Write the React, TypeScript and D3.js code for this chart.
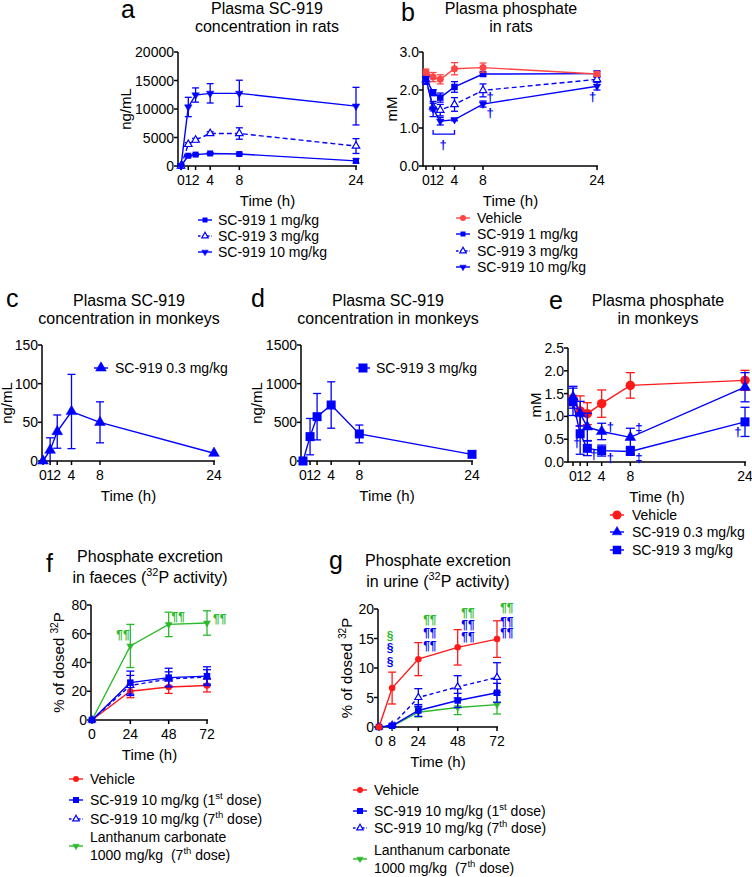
import React from "react";
import * as d3 from "d3";

const FONT = "'Liberation Sans', Arial, Helvetica, sans-serif";
const BLUE = "#0000ff";
const RED = "#ff1a1a";
const RED_B = "#ff4545";
const GREEN = "#2cba2c";

// ---------- shared ----------
const pkTimes = [0, 1, 2, 4, 8, 24];
const pkXTicks = [0, 1, 2, 4, 8, 24];
const excTicksX = [0, 24, 48, 72];
const fTimes = [0, 24, 48, 72];
const gTimes = [0, 8, 24, 48, 72];
const gTicksX = [0, 8, 24, 48, 72];

// ---------- a: plasma SC-919 in rats ----------
const aYTicks = [0, 5000, 10000, 15000, 20000];
const a1Mean = [0, 1800, 2000, 2200, 2100, 900];
const a1Err = [0, 150, 150, 150, 150, 400];
const a3Mean = [0, 3800, 4550, 5700, 5700, 3500];
const a3Err = [0, 300, 300, 300, 1000, 1300];
const a10Mean = [0, 10350, 12450, 12750, 12750, 10500];
const a10Err = [0, 1700, 1250, 1700, 2300, 3300];
const aLegend = ["SC-919 1 mg/kg", "SC-919 3 mg/kg", "SC-919 10 mg/kg"];

// ---------- b: plasma phosphate in rats ----------
const bYTicks = [0, 1, 2, 3];
const bVehMean = [2.47, 2.34, 2.28, 2.56, 2.59, 2.42];
const bVehErr = [0.08, 0.12, 0.12, 0.16, 0.12, 0.06];
const b1Mean = [2.3, 1.93, 1.8, 2.08, 2.42, 2.43];
const b1Err = [0.15, 0.08, 0.12, 0.14, 0.05, 0.07];
const b3Mean = [2.27, 1.55, 1.47, 1.62, 1.99, 2.28];
const b3Err = [0.1, 0.1, 0.15, 0.18, 0.17, 0.05];
const b10Mean = [2.3, 1.5, 1.18, 1.22, 1.63, 2.1];
const b10Err = [0.08, 0.2, 0.1, 0.03, 0.08, 0.1];
const bLegend = ["Vehicle", "SC-919 1 mg/kg", "SC-919 3 mg/kg", "SC-919 10 mg/kg"];

// ---------- c: plasma SC-919 in monkeys 0.3 ----------
const cYTicks = [0, 50, 100, 150];
const cMean = [0, 14, 38, 64, 50, 10];
const cErr = [0, 16, 21.5, 48, 26.5, 0];
const cLegend = "SC-919 0.3 mg/kg";

// ---------- d: plasma SC-919 in monkeys 3 ----------
const dYTicks = [0, 500, 1000, 1500];
const dMean = [0, 315, 573, 724, 350, 86];
const dErr = [0, 235, 300, 300, 115, 0];
const dLegend = "SC-919 3 mg/kg";

// ---------- e: plasma phosphate in monkeys ----------
const eYTicks = [0, 0.5, 1, 1.5, 2, 2.5];
const eVehMean = [1.36, 1.12, 1.06, 1.28, 1.68, 1.79];
const eVehErr = [0.1, 0.33, 0.24, 0.3, 0.28, 0.22];
const e03Mean = [1.42, 1.06, 0.77, 0.67, 0.54, 1.64];
const e03Err = [0.24, 0.27, 0.3, 0.18, 0.2, 0.32];
const e3Mean = [1.32, 0.62, 0.3, 0.25, 0.23, 0.88];
const e3Err = [0.3, 0.45, 0.16, 0.12, 0.07, 0.32];
const eLegend = ["Vehicle", "SC-919 0.3 mg/kg", "SC-919 3 mg/kg"];

// ---------- f: faeces ----------
const fYTicks = [0, 20, 40, 60, 80];
const fVehMean = [0, 20, 23, 24];
const fVehErr = [0, 4.5, 4.5, 4.5];
const f1Mean = [0, 26, 29.5, 30.5];
const f1Err = [0, 8, 6.5, 6.5];
const f7Mean = [0, 24, 28.5, 30];
const f7Err = [0, 7, 5, 5];
const fLaMean = [0, 51.5, 66.5, 67.5];
const fLaErr = [0, 15, 8.5, 8.5];

// ---------- g: urine ----------
const gYTicks = [0, 5, 10, 15, 20];
const gVehMean = [0, 6.6, 11.5, 13.5, 14.9];
const gVehErr = [0, 2.7, 2.8, 3.0, 3.1];
const g1Mean = [0, 0.2, 2.8, 4.5, 5.8];
const g1Err = [0, 0.1, 1.0, 1.2, 1.6];
const g7Mean = [0, 0.3, 5.0, 6.8, 8.4];
const g7Err = [0, 0.2, 1.5, 1.9, 2.5];
const gLaMean = [0, 0.1, 2.5, 3.3, 3.8];
const gLaErr = [0, 0.1, 0.8, 1.2, 1.6];

// legend labels for f/g (odd index = superscript)
const exLegend: string[][][] = [
  [["Vehicle"]],
  [["SC-919 10 mg/kg (1", "st", " dose)"]],
  [["SC-919 10 mg/kg (7", "th", " dose)"]],
  [["Lanthanum carbonate"], ["1000 mg/kg  (7", "th", " dose)"]],
];

type MT = "square" | "circle" | "triUp" | "triOpen" | "triDown";
type Series = { t: number[]; m: number[]; e: number[]; color: string; marker: MT; size: number; dash?: string; cap: number };
type Ann = { t: number; v: number; s: string; color: string; fs?: number };

function Marker({ type, x, y, s, color }: { type: MT; x: number; y: number; s: number; color: string }) {
  const h = s / 2;
  if (type === "square") return <rect x={x - h} y={y - h} width={s} height={s} fill={color} />;
  if (type === "circle") return <circle cx={x} cy={y} r={h} fill={color} />;
  const r = s * 0.62;
  if (type === "triDown") {
    const pts = `${x},${y + r} ${x - r * 0.866},${y - r * 0.5} ${x + r * 0.866},${y - r * 0.5}`;
    return <polygon points={pts} fill={color} stroke={color} strokeWidth={0.5} />;
  }
  const pts = `${x},${y - r} ${x - r * 0.866},${y + r * 0.5} ${x + r * 0.866},${y + r * 0.5}`;
  return (
    <polygon
      points={pts}
      fill={type === "triOpen" ? "#fff" : color}
      stroke={color}
      strokeWidth={type === "triOpen" ? 1.2 : 0.5}
    />
  );
}

function Parts({ x, y, parts, fs, anchor = "start", bold = false, fill = "#000" }: any) {
  return (
    <text x={x} y={y} fontSize={fs} textAnchor={anchor} fill={fill} fontWeight={bold ? "bold" : "normal"} style={{ whiteSpace: "pre" }}>
      {parts.map((p: string, i: number) =>
        i % 2 === 1 ? (
          <tspan key={i} fontSize={fs * 0.68} dy={-fs * 0.42}>{p}</tspan>
        ) : (
          <tspan key={i} dy={i > 0 ? fs * 0.42 : 0}>{p}</tspan>
        )
      )}
    </text>
  );
}

function Panel(props: {
  xr: [number, number]; yr: [number, number]; xd: [number, number]; yd: [number, number];
  axisX: number; xTicks: number[]; yTicks: number[]; fmtY?: (v: number) => string;
  series: Series[]; anns?: Ann[]; extra?: (x: any, y: any) => React.ReactNode;
  yLabel: string[]; yLabelX: number;
}) {
  const { xr, yr, xd, yd, axisX, xTicks, yTicks, fmtY, series, anns, extra, yLabel, yLabelX } = props;
  const x = d3.scaleLinear().domain(xd).range(xr);
  const y = d3.scaleLinear().domain(yd).range(yr);
  const y0 = y(yd[0]);
  const yTop = y(yd[1]);
  const xEnd = x(xd[1]) + 1;
  const line = d3.line<[number, number]>().x((d) => x(d[0])).y((d) => y(d[1]));
  const f = fmtY || ((v: number) => String(v));
  const midY = (y0 + yTop) / 2;
  return (
    <g>
      {/* axes */}
      <line x1={axisX} x2={axisX} y1={y0 + 0.75} y2={yTop} stroke="#000" strokeWidth={1.5} />
      <line x1={axisX} x2={xEnd} y1={y0} y2={y0} stroke="#000" strokeWidth={1.5} />
      {yTicks.map((v) => (
        <g key={"y" + v}>
          <line x1={axisX - 4} x2={axisX} y1={y(v)} y2={y(v)} stroke="#000" strokeWidth={1.5} />
          <text x={axisX - 4} y={y(v)} dy="0.36em" fontSize={14} textAnchor="end">{f(v)}</text>
        </g>
      ))}
      {xTicks.map((v) => (
        <g key={"x" + v}>
          <line x1={x(v)} x2={x(v)} y1={y0} y2={y0 + 4} stroke="#000" strokeWidth={1.5} />
          <text x={x(v)} y={y0 + 19} fontSize={14} textAnchor="middle">{v}</text>
        </g>
      ))}
      <text x={(axisX + xEnd) / 2} y={y0 + 40} fontSize={15} textAnchor="middle">Time (h)</text>
      <g transform={`translate(${yLabelX},${midY}) rotate(-90)`}>
        <Parts x={0} y={5} parts={yLabel} fs={15} anchor="middle" />
      </g>
      {/* series */}
      {series.map((s, i) => (
        <g key={i}>
          <path
            d={line(s.t.map((t, j) => [t, s.m[j]] as [number, number])) || ""}
            fill="none"
            stroke={s.color}
            strokeWidth={1.4}
            strokeDasharray={s.dash}
          />
          {s.t.map((t, j) => {
            if (!(s.e[j] > 0)) return null;
            const lo = y(Math.max(yd[0], s.m[j] - s.e[j]));
            const hi = y(s.m[j] + s.e[j]);
            const cx = x(t);
            return (
              <g key={j} stroke={s.color} strokeWidth={1.3}>
                <line x1={cx} x2={cx} y1={lo} y2={hi} />
                <line x1={cx - s.cap / 2} x2={cx + s.cap / 2} y1={hi} y2={hi} />
                {s.m[j] - s.e[j] > yd[0] && <line x1={cx - s.cap / 2} x2={cx + s.cap / 2} y1={lo} y2={lo} />}
              </g>
            );
          })}
          {s.t.map((t, j) => (
            <Marker key={"m" + j} type={s.marker} x={x(t)} y={y(s.m[j])} s={s.size} color={s.color} />
          ))}
        </g>
      ))}
      {extra && extra(x, y)}
      {(anns || []).map((a, i) => (
        <text key={"a" + i} x={x(a.t)} y={y(a.v)} dy="0.35em" fontSize={a.fs || 13} fontWeight="bold" fill={a.color} textAnchor="middle">
          {a.s}
        </text>
      ))}
    </g>
  );
}

type LItem = { lines: string[][]; color: string; marker: MT; size: number; dash?: string };

function Legend({ mx, tx, ys, items, lineGap = 18, fs = 14 }: { mx: number; tx: number; ys: number[]; items: LItem[]; lineGap?: number; fs?: number }) {
  return (
    <g>
      {items.map((it, i) => {
        const yc = ys[i];
        const n = it.lines.length;
        return (
          <g key={i}>
            <line x1={mx - 7} x2={mx + 7} y1={yc} y2={yc} stroke={it.color} strokeWidth={1.4} strokeDasharray={it.dash ? "2.5,2" : undefined} />
            <Marker type={it.marker} x={mx} y={yc} s={it.size} color={it.color} />
            {it.lines.map((ln, k) => (
              <Parts key={k} x={tx} y={yc + 5 + (k - (n - 1) / 2) * lineGap} parts={ln} fs={fs} />
            ))}
          </g>
        );
      })}
    </g>
  );
}

function Title({ x, y, lines, fs = 16, gap = 17.5 }: { x: number; y: number; lines: string[][]; fs?: number; gap?: number }) {
  return (
    <g>
      {lines.map((ln, i) => (
        <Parts key={i} x={x} y={y + i * gap} parts={ln} fs={fs} anchor="middle" />
      ))}
    </g>
  );
}

const mk = (t: number[], m: number[], e: number[], color: string, marker: MT, size: number, cap: number, dash?: string): Series => ({ t, m, e, color, marker, size, cap, dash });

export default function App() {
  const f1 = d3.format(".1f");
  return (
    <svg width={752} height={877} style={{ position: "absolute", left: 0, top: 0, background: "#fff" }} fontFamily={FONT}>
      <rect width={752} height={877} fill="#fff" />
      {/* panel letters */}
      <text x={121} y={18} fontSize={25}>a</text>
      <text x={401} y={21} fontSize={25}>b</text>
      <text x={6} y={307} fontSize={25}>c</text>
      <text x={251} y={307} fontSize={25}>d</text>
      <text x={549} y={309} fontSize={25}>e</text>
      <text x={46} y={572} fontSize={25}>f</text>
      <text x={329} y={569} fontSize={25}>g</text>

      {/* titles */}
      <Title x={267} y={14} lines={[["Plasma SC-919"], ["concentration in rats"]]} />
      <Title x={511} y={14} lines={[["Plasma phosphate"], ["in rats"]]} />
      <Title x={129} y={306} lines={[["Plasma SC-919"], ["concentration in monkeys"]]} />
      <Title x={388} y={306} lines={[["Plasma SC-919"], ["concentration in monkeys"]]} />
      <Title x={658} y={306} lines={[["Plasma phosphate"], ["in monkeys"]]} />
      <Title x={150} y={562} gap={21} lines={[["Phosphate excretion"], ["in faeces (", "32", "P activity)"]]} />
      <Title x={438} y={566} gap={21} lines={[["Phosphate excretion"], ["in urine (", "32", "P activity)"]]} />

      {/* a */}
      <Panel
        xr={[181, 356]} yr={[166, 52]} xd={[0, 24]} yd={[0, 20000]} axisX={178}
        xTicks={pkXTicks} yTicks={aYTicks} yLabel={["ng/mL"]} yLabelX={126}
        series={[
          mk(pkTimes, a1Mean, a1Err, BLUE, "square", 6, 7),
          mk(pkTimes, a3Mean, a3Err, BLUE, "triOpen", 7, 7, "5,3"),
          mk(pkTimes, a10Mean, a10Err, BLUE, "triDown", 7, 7),
        ]}
      />
      <Legend mx={205} tx={218} ys={[220, 236, 252]} items={[
        { lines: [[aLegend[0]]], color: BLUE, marker: "square", size: 5 },
        { lines: [[aLegend[1]]], color: BLUE, marker: "triOpen", size: 6, dash: "y" },
        { lines: [[aLegend[2]]], color: BLUE, marker: "triDown", size: 6 },
      ]} />

      {/* b */}
      <Panel
        xr={[426, 597]} yr={[166, 52]} xd={[0, 24]} yd={[0, 3]} axisX={423}
        xTicks={pkXTicks} yTicks={bYTicks} fmtY={f1} yLabel={["mM"]} yLabelX={392}
        series={[
          mk(pkTimes, b3Mean, b3Err, BLUE, "triOpen", 7, 7, "5,3"),
          mk(pkTimes, b10Mean, b10Err, BLUE, "triDown", 7, 7),
          mk(pkTimes, b1Mean, b1Err, BLUE, "square", 6.5, 7),
          mk(pkTimes, bVehMean, bVehErr, RED_B, "circle", 7, 7),
        ]}
        anns={[
          { t: 9.0, v: 1.82, s: "†", color: BLUE },
          { t: 9.0, v: 1.42, s: "†", color: BLUE },
          { t: 23.4, v: 1.82, s: "†", color: BLUE },
          { t: 2.4, v: 0.58, s: "†", color: BLUE },
        ]}
        extra={(x, y) => (
          <path
            d={`M${x(1)},${y(0.95)} V${y(0.84)} H${x(4)} V${y(0.95)}`}
            fill="none" stroke={BLUE} strokeWidth={1.3}
          />
        )}
      />
      <Legend mx={463} tx={477} ys={[218, 234, 251, 267]} items={[
        { lines: [[bLegend[0]]], color: RED_B, marker: "circle", size: 6 },
        { lines: [[bLegend[1]]], color: BLUE, marker: "square", size: 5 },
        { lines: [[bLegend[2]]], color: BLUE, marker: "triOpen", size: 6, dash: "y" },
        { lines: [[bLegend[3]]], color: BLUE, marker: "triDown", size: 6 },
      ]} />

      {/* c */}
      <Panel
        xr={[43, 214]} yr={[461, 345]} xd={[0, 24]} yd={[0, 150]} axisX={42}
        xTicks={pkXTicks} yTicks={cYTicks} yLabel={["ng/mL"]} yLabelX={7}
        series={[mk(pkTimes, cMean, cErr, BLUE, "triUp", 10, 8)]}
      />
      <Legend mx={101} tx={115} ys={[368]} items={[{ lines: [[cLegend]], color: BLUE, marker: "triUp", size: 10 }]} />

      {/* d */}
      <Panel
        xr={[303, 472]} yr={[461, 345]} xd={[0, 24]} yd={[0, 1500]} axisX={301}
        xTicks={pkXTicks} yTicks={dYTicks} yLabel={["ng/mL"]} yLabelX={257}
        series={[mk(pkTimes, dMean, dErr, BLUE, "square", 9, 8)]}
      />
      <Legend mx={363} tx={376} ys={[368]} items={[{ lines: [[dLegend]], color: BLUE, marker: "square", size: 9 }]} />

      {/* e */}
      <Panel
        xr={[573, 745]} yr={[462, 348]} xd={[0, 24]} yd={[0, 2.5]} axisX={568}
        xTicks={pkXTicks} yTicks={eYTicks} fmtY={f1} yLabel={["mM"]} yLabelX={536}
        series={[
          mk(pkTimes, eVehMean, eVehErr, RED, "circle", 9.5, 9),
          mk(pkTimes, e03Mean, e03Err, BLUE, "triUp", 10, 9),
          mk(pkTimes, e3Mean, e3Err, BLUE, "square", 9, 9),
        ]}
        anns={[
          { t: 0.55, v: 0.42, s: "†", color: BLUE },
          { t: 5.2, v: 0.79, s: "†", color: BLUE },
          { t: 9.2, v: 0.75, s: "‡", color: BLUE },
          { t: 2.9, v: 0.17, s: "†", color: BLUE },
          { t: 5.2, v: 0.11, s: "†", color: BLUE },
          { t: 9.2, v: 0.11, s: "‡", color: BLUE },
          { t: 23.0, v: 0.66, s: "†", color: BLUE },
        ]}
      />
      <Legend mx={617} tx={632} ys={[515, 532, 550]} items={[
        { lines: [[eLegend[0]]], color: RED, marker: "circle", size: 9 },
        { lines: [[eLegend[1]]], color: BLUE, marker: "triUp", size: 9 },
        { lines: [[eLegend[2]]], color: BLUE, marker: "square", size: 8.5 },
      ]} />

      {/* f */}
      <Panel
        xr={[92, 207]} yr={[720, 605]} xd={[0, 72]} yd={[0, 80]} axisX={91}
        xTicks={excTicksX} yTicks={fYTicks} yLabel={["% of dosed ", "32", "P"]} yLabelX={59}
        series={[
          mk(fTimes, fLaMean, fLaErr, GREEN, "triDown", 6.5, 8),
          mk(fTimes, fVehMean, fVehErr, RED, "circle", 6.5, 8),
          mk(fTimes, f7Mean, f7Err, BLUE, "triOpen", 6.5, 8, "4,3"),
          mk(fTimes, f1Mean, f1Err, BLUE, "square", 6.5, 8),
        ]}
        anns={[
          { t: 19.4, v: 59, s: "¶¶", color: GREEN, fs: 12 },
          { t: 54, v: 71.5, s: "¶¶", color: GREEN, fs: 12 },
          { t: 80, v: 70.5, s: "¶¶", color: GREEN, fs: 12 },
        ]}
      />
      <Legend mx={76} tx={90} ys={[779, 800, 819, 846]} items={[
        { lines: exLegend[0], color: RED, marker: "circle", size: 6 },
        { lines: exLegend[1], color: BLUE, marker: "square", size: 6 },
        { lines: exLegend[2], color: BLUE, marker: "triOpen", size: 6, dash: "y" },
        { lines: exLegend[3], color: GREEN, marker: "triDown", size: 6 },
      ]} />

      {/* g */}
      <Panel
        xr={[379, 497]} yr={[727, 609]} xd={[0, 72]} yd={[0, 20]} axisX={378}
        xTicks={gTicksX} yTicks={gYTicks} yLabel={["% of dosed ", "32", "P"]} yLabelX={347}
        series={[
          mk(gTimes, gLaMean, gLaErr, GREEN, "triDown", 6.5, 8),
          mk(gTimes, g7Mean, g7Err, BLUE, "triOpen", 6.5, 8, "4,3"),
          mk(gTimes, g1Mean, g1Err, BLUE, "square", 6.5, 8),
          mk(gTimes, gVehMean, gVehErr, RED, "circle", 6.5, 8),
        ]}
        anns={[
          { t: 6.7, v: 15.4, s: "§", color: GREEN, fs: 12 },
          { t: 6.7, v: 13.4, s: "§", color: BLUE, fs: 12 },
          { t: 6.7, v: 11.0, s: "§", color: BLUE, fs: 12 },
          { t: 31, v: 18.1, s: "¶¶", color: GREEN, fs: 12 },
          { t: 31, v: 15.9, s: "¶¶", color: BLUE, fs: 12 },
          { t: 31, v: 13.7, s: "¶¶", color: BLUE, fs: 12 },
          { t: 54.3, v: 19.3, s: "¶¶", color: GREEN, fs: 12 },
          { t: 54.3, v: 17.3, s: "¶¶", color: BLUE, fs: 12 },
          { t: 54.3, v: 15.3, s: "¶¶", color: BLUE, fs: 12 },
          { t: 78, v: 20.2, s: "¶¶", color: GREEN, fs: 12 },
          { t: 78, v: 17.9, s: "¶¶", color: BLUE, fs: 12 },
          { t: 78, v: 15.9, s: "¶¶", color: BLUE, fs: 12 },
        ]}
      />
      <Legend mx={360} tx={374} ys={[790, 811, 828, 859]} items={[
        { lines: exLegend[0], color: RED, marker: "circle", size: 6 },
        { lines: exLegend[1], color: BLUE, marker: "square", size: 6 },
        { lines: exLegend[2], color: BLUE, marker: "triOpen", size: 6, dash: "y" },
        { lines: exLegend[3], color: GREEN, marker: "triDown", size: 6 },
      ]} />
    </svg>
  );
}
